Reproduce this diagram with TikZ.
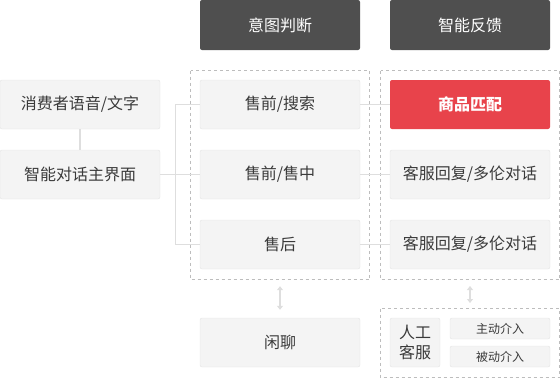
\documentclass[tikz,border=0pt]{standalone}
\usepackage{fontspec}
\setmainfont{Noto Sans CJK SC}
\usetikzlibrary{positioning,arrows.meta}

\definecolor{boxfill}{HTML}{F4F4F4}
\definecolor{boxline}{HTML}{E4E4E4}
\definecolor{headfill}{HTML}{4F4F4F}
\definecolor{matchred}{HTML}{E8434B}
\definecolor{wire}{HTML}{DEDEDE}
\definecolor{dashline}{HTML}{BDBDBD}
\definecolor{txt}{HTML}{3A3A3A}

\begin{document}
\begin{tikzpicture}[
    x=1pt, y=-1pt,
    every node/.style={rectangle, rounded corners=2pt, inner sep=0pt,
        font=\fontsize{16}{19}\selectfont, text=txt},
    box/.style={draw=boxline, fill=boxfill, minimum width=160pt, minimum height=49pt},
    head/.style={fill=headfill, text=white, minimum width=160pt, minimum height=50pt},
    hot/.style={fill=matchred, text=white, minimum width=160pt, minimum height=49pt,
        font=\fontsize{16}{19}\selectfont\bfseries},
    small/.style={draw=boxline, fill=boxfill, minimum width=100pt, minimum height=21pt,
        font=\fontsize{12}{14}\selectfont},
    link/.style={draw=wire, line width=1.3pt},
    group/.style={draw=dashline, dashed, line width=0.8pt},
    dbl/.style={draw=wire, line width=2pt, {Triangle[width=6pt,length=4pt]}-{Triangle[width=6pt,length=4pt]}}
]

\useasboundingbox (0,0) rectangle (560,378);

% ================= headers =================

\node[head] (intent) at (280,25) {意图判断};
\node[head] (feed) at (470,25) {智能反馈};

% ================= groups =================

\draw[group] (190.5,70.5) rectangle (369.5,279.5);
\draw[group] (380.5,70.5) rectangle (559.5,279.5);
\draw[group] (380.5,308.5) rectangle (559.5,377.5);

% ================= input =================

\node[box] (voice) at (80,104.5) {消费者语音/文字};
\node[box] (talk) at (80,174.5) {智能对话主界面};

\draw[link] (voice) -- (talk);

% ================= intent =================

\node[box] (pre) at (280,104.5) {售前/搜索};
\node[box] (mid) at (280,174.5) {售前/售中};
\node[box] (after) at (280,244.5) {售后};
\node[box] (chat) at (280,342.5) {闲聊};

\draw[link] (talk) -- (mid);
\draw[link] (pre.west) -- ++(-24,0) |- (after.west);

% ================= feedback =================

\node[hot] (match) at (470,104.5) {商品匹配};
\node[box] (reply1) at (470,174.5) {客服回复/多伦对话};
\node[box] (reply2) at (470,244.5) {客服回复/多伦对话};

\draw[link] (pre) -- (match);
\draw[link] (mid) -- (reply1);
\draw[link] (after) -- (reply2);

% ================= manual service =================

\node[box, minimum width=50pt, minimum height=49pt, align=center,
    font=\fontsize{16}{20}\selectfont] (human) at (415,342.5) {人工\\客服};
\node[small] (active) at (500,328.5) {主动介入};
\node[small] (passive) at (500,356.5) {被动介入};

% arrows between rows

\coordinate (c1) at (470,286);
\coordinate (c2) at (470,303);

\draw[dbl] ([yshift=-17pt]after.south) -- ([yshift=8pt]chat.north);
\draw[dbl] (c1) -- (c2);

\end{tikzpicture}
\end{document}
